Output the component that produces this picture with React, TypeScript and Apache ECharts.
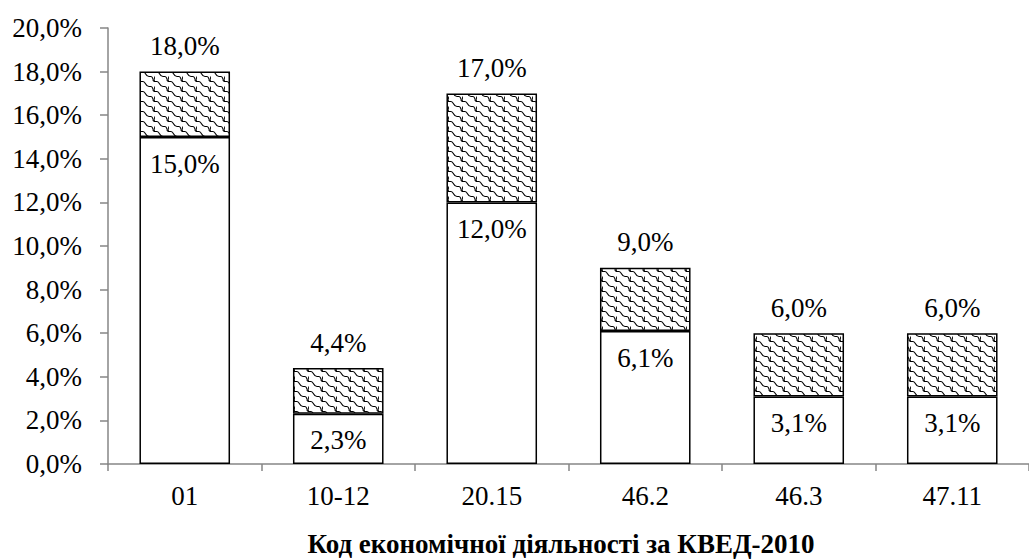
import React, { useEffect, useRef } from "react";
import * as echarts from "echarts";

const categories = ["01", "10-12", "20.15", "46.2", "46.3", "47.11"];
const baseValues = [15.0, 2.3, 12.0, 6.1, 3.1, 3.1];
const totalValues = [18.0, 4.4, 17.0, 9.0, 6.0, 6.0];
const yTicks = { min: 0, max: 20, interval: 2 };
const axisTitle = "Код економічної діяльності за КВЕД-2010";

const fmt = (v: number) => v.toFixed(1).replace(".", ",") + "%";

function makePattern(): HTMLCanvasElement {
  const c = document.createElement("canvas");
  c.width = 14;
  c.height = 10;
  const ctx = c.getContext("2d")!;
  ctx.fillStyle = "#ffffff";
  ctx.fillRect(0, 0, 14, 10);
  ctx.strokeStyle = "#000000";
  ctx.lineWidth = 1.1;
  ctx.beginPath();
  ctx.moveTo(0, 1.5);
  ctx.lineTo(3, 1.5);
  ctx.bezierCurveTo(6, 1.5, 5, 6.5, 9, 6.5);
  ctx.lineTo(11, 6.5);
  ctx.bezierCurveTo(13, 6.5, 12.5, 9, 14, 11.5);
  ctx.stroke();
  ctx.beginPath();
  ctx.moveTo(0, 6.5);
  ctx.bezierCurveTo(1, 8, 0, 10, -1, 11.5);
  ctx.stroke();
  ctx.beginPath();
  ctx.moveTo(14, 1.5);
  ctx.bezierCurveTo(13, 0, 12.5, -1, 12, -1);
  ctx.stroke();
  ctx.beginPath();
  ctx.moveTo(0, -3.5);
  ctx.bezierCurveTo(1, -2, 0.5, 0, 0, 1.5);
  ctx.stroke();
  return c;
}

export default function App() {
  const ref = useRef<HTMLDivElement>(null);
  useEffect(() => {
    if (!ref.current) return;
    const chart = echarts.init(ref.current, null, { renderer: "svg" });
    const pat = makePattern();
    const topValues = totalValues.map((t, i) => +(t - baseValues[i]).toFixed(2));
    const font = "Liberation Serif";
    chart.setOption({
      animation: false,
      backgroundColor: "#ffffff",
      grid: { left: 108, right: -12, top: 28, bottom: 96, containLabel: false },
      xAxis: {
        type: "category",
        data: categories,
        axisLine: { lineStyle: { color: "#868686", width: 1.5 } },
        axisTick: { show: true, length: 7, lineStyle: { color: "#868686", width: 1.5 } },
        axisLabel: { color: "#000", fontFamily: font, fontSize: 27, margin: 18 },
      },
      yAxis: {
        type: "value",
        min: yTicks.min,
        max: yTicks.max,
        interval: yTicks.interval,
        splitLine: { show: false },
        axisLine: { show: true, lineStyle: { color: "#868686", width: 1.5 } },
        axisTick: { show: true, length: 8, lineStyle: { color: "#868686", width: 1.5 } },
        axisLabel: {
          color: "#000",
          fontFamily: font,
          fontSize: 27,
          margin: 26,
          formatter: (v: number) => fmt(v),
        },
      },
      graphic: [
        {
          type: "text",
          x: 561,
          y: 544,
          style: {
            text: axisTitle,
            fill: "#000",
            font: `bold 27px "${font}"`,
            align: "center",
            verticalAlign: "middle",
          },
        },
      ],
      series: [
        {
          type: "bar",
          stack: "s",
          barWidth: "59%",
          data: baseValues,
          itemStyle: { color: "#ffffff", borderColor: "#000", borderWidth: 1.5 },
          label: {
            show: true,
            position: "insideTop",
            distance: 13,
            color: "#000",
            fontFamily: font,
            fontSize: 27,
            formatter: (p: any) => fmt(baseValues[p.dataIndex]),
          },
        },
        {
          type: "bar",
          stack: "s",
          barWidth: "59%",
          data: topValues,
          itemStyle: {
            color: { image: pat, repeat: "repeat", imageWidth: 14, imageHeight: 10 } as any,
            borderColor: "#000",
            borderWidth: 1.5,
          },
          label: {
            show: true,
            position: "top",
            distance: 12,
            color: "#000",
            fontFamily: font,
            fontSize: 27,
            formatter: (p: any) => fmt(totalValues[p.dataIndex]),
          },
        },
      ],
    });
    return () => chart.dispose();
  }, []);
  return <div ref={ref} style={{ width: 1029, height: 560, position: "absolute", left: 0, top: 0 }} />;
}
